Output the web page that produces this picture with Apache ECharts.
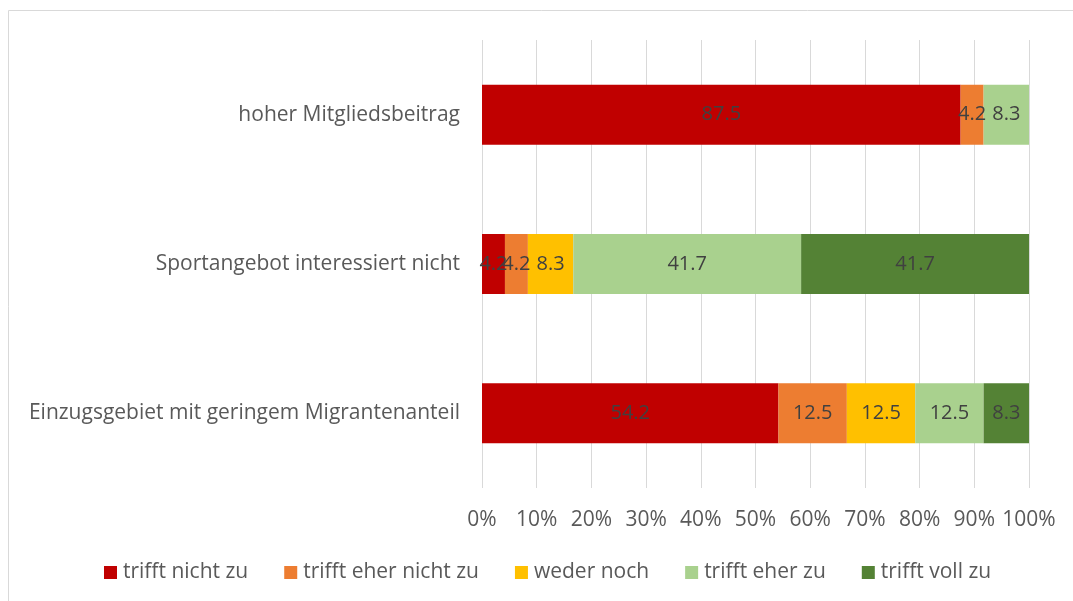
<!DOCTYPE html>
<html>
<head>
<meta charset="utf-8">
<script src="https://cdn.jsdelivr.net/npm/echarts@6/dist/echarts.min.js"></script>
<style>
  html, body { margin: 0; padding: 0; background: #fff; }
  #main { width: 1073px; height: 601px; }
</style>
</head>
<body>
<div id="main"></div>
<script>
// categories, bottom to top (ECharts draws the first category at the bottom)
var categories = ['Einzugsgebiet mit geringem Migrantenanteil', 'Sportangebot interessiert nicht', 'hoher Mitgliedsbeitrag'];
var seriesNames = ['trifft nicht zu', 'trifft eher nicht zu', 'weder noch', 'trifft eher zu', 'trifft voll zu'];
var colors = ['#C00000', '#ED7D31', '#FFC000', '#A9D18E', '#548235'];

var trifftNicht     = [54.2, 4.2, 87.5];
var trifftEherNicht = [12.5, 4.2, 4.2];
var wederNoch       = [12.5, 8.3, 0];
var trifftEher      = [12.5, 41.7, 8.3];
var trifftVoll      = [8.3, 41.7, 0];

var xTicks = [0, 10, 20, 30, 40, 50, 60, 70, 80, 90, 100];

var raw = [trifftNicht, trifftEherNicht, wederNoch, trifftEher, trifftVoll];

// 100% stacked: normalise each row to its sum
var rowSums = categories.map(function (c, i) {
  var s = 0;
  raw.forEach(function (arr) { s += arr[i]; });
  return s;
});

var font = 'Open Sans';

var series = raw.map(function (arr, k) {
  return {
    name: seriesNames[k],
    type: 'bar',
    stack: 'total',
    barWidth: 60,
    itemStyle: { color: colors[k] },
    label: {
      show: true,
      position: 'inside',
      color: '#404040',
      fontFamily: font,
      fontSize: 20,
      formatter: function (p) {
        var v = arr[p.dataIndex];
        return v === 0 ? '' : v.toFixed(1);
      }
    },
    data: arr.map(function (v, i) { return v / rowSums[i] * 100; })
  };
});

var myChart = echarts.init(document.getElementById('main'));

var option = {
  animation: false,
  textStyle: { fontFamily: font },
  graphic: [{
    type: 'rect',
    shape: { x: 8.5, y: 10.5, width: 1200, height: 800 },
    style: { fill: 'none', stroke: '#d9d9d9', lineWidth: 1 },
    silent: true
  }],
  grid: {
    left: 482,
    right: 44,
    top: 40,
    bottom: 113
  },
  legend: {
    bottom: 18,
    left: 104,
    padding: 0,
    itemWidth: 13,
    itemHeight: 13,
    itemGap: 36,
    icon: 'rect',
    textStyle: { color: '#595959', fontSize: 21, fontFamily: font, padding: [0, 0, 0, 1] },
    data: seriesNames
  },
  xAxis: {
    type: 'value',
    min: xTicks[0],
    max: xTicks[xTicks.length - 1],
    interval: 10,
    axisLine: { show: false },
    axisTick: { show: false },
    splitLine: { lineStyle: { color: '#d9d9d9', width: 1 } },
    axisLabel: {
      color: '#595959',
      fontSize: 21,
      fontFamily: font,
      margin: 22,
      formatter: '{value}%'
    }
  },
  yAxis: {
    type: 'category',
    data: categories,
    axisLine: { show: false },
    axisTick: { show: false },
    axisLabel: {
      color: '#595959',
      fontSize: 21,
      fontFamily: font,
      margin: 22
    }
  },
  series: series
};

myChart.setOption(option);
</script>
</body>
</html>
